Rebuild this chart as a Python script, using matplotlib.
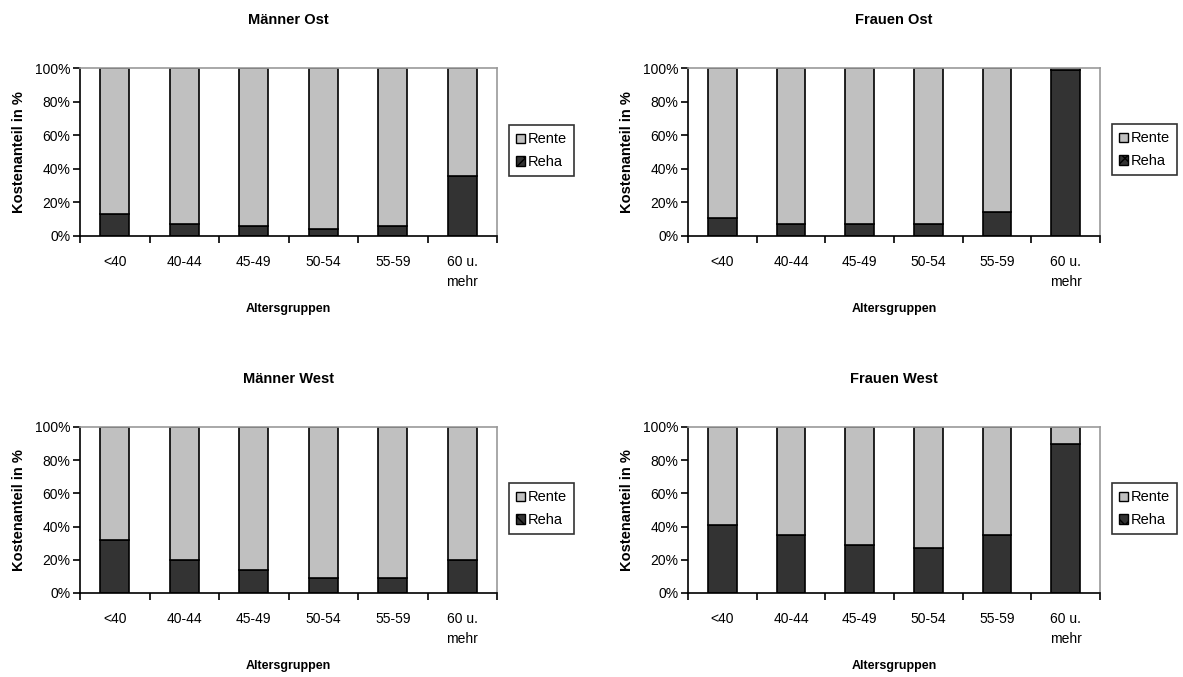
import matplotlib
matplotlib.use("Agg")
import matplotlib.pyplot as plt
import numpy as np
from matplotlib.patches import Patch

plt.rcParams['font.family'] = ['Liberation Sans', 'DejaVu Sans']

categories = ["<40", "40-44", "45-49", "50-54", "55-59", "60 u.\nmehr"]
titles = ["Männer Ost", "Frauen Ost", "Männer West", "Frauen West"]

reha_maenner_ost = [13, 7, 6, 4, 6, 36]
reha_frauen_ost = [11, 7, 7, 7, 14, 99]
reha_maenner_west = [32, 20, 14, 9, 9, 20]
reha_frauen_west = [41, 35, 29, 27, 35, 90]

rente_maenner_ost = [87, 93, 94, 96, 94, 64]
rente_frauen_ost = [89, 93, 93, 93, 86, 1]
rente_maenner_west = [68, 80, 86, 91, 91, 80]
rente_frauen_west = [59, 65, 71, 73, 65, 10]

reha_all = [reha_maenner_ost, reha_frauen_ost, reha_maenner_west, reha_frauen_west]
rente_all = [rente_maenner_ost, rente_frauen_ost, rente_maenner_west, rente_frauen_west]

W, H = 1183, 677
fig = plt.figure(figsize=(W / 100, H / 100), dpi=100)

# axes boxes in pixels: (left, right, top, bottom)
boxes = [(80, 497, 68, 236), (688, 1100, 68, 236),
         (80, 497, 427, 593), (688, 1100, 427, 593)]
legend_pos = [(509, 125), (1112, 124), (509, 483), (1112, 483)]

reha_color = "#333333"
rente_color = "#c0c0c0"

for i in range(4):
    l, r, t, b = boxes[i]
    ax = fig.add_axes([l / W, 1 - b / H, (r - l) / W, (b - t) / H])
    x = np.arange(len(categories))
    ax.bar(x, reha_all[i], width=0.42, color=reha_color, edgecolor="black", linewidth=1.2)
    ax.bar(x, rente_all[i], width=0.42, bottom=reha_all[i], color=rente_color,
           edgecolor="black", linewidth=1.2)
    ax.set_xlim(-0.5, len(categories) - 0.5)
    ax.set_ylim(0, 100)
    ax.set_yticks([0, 20, 40, 60, 80, 100])
    ax.set_yticklabels(["0%", "20%", "40%", "60%", "80%", "100%"], fontsize=10)
    ax.set_xticks(x)
    ax.set_xticklabels(categories, fontsize=10, va="top", linespacing=1.5)
    ax.tick_params(axis="x", length=0, pad=14)
    ax.set_xticks(np.arange(-0.5, len(categories), 1.0), minor=True)
    ax.tick_params(axis="x", which="minor", length=5, direction="out", width=1.2)
    ax.tick_params(axis="y", length=5, direction="out", width=1.2, pad=2)
    for s in ["top", "right"]:
        ax.spines[s].set_color("#999999")
        ax.spines[s].set_linewidth(1.2)
    ax.spines["left"].set_color("black")
    ax.spines["bottom"].set_color("black")
    ax.spines["left"].set_linewidth(1.2)
    ax.spines["bottom"].set_linewidth(1.2)
    ax.set_title(titles[i], fontsize=10.5, fontweight="bold", pad=32)
    ax.set_ylabel("Kostenanteil in %", fontsize=10.5, fontweight="bold", labelpad=6)
    ax.set_xlabel("Altersgruppen", fontsize=9, fontweight="bold", labelpad=10)
    handles = [Patch(facecolor=rente_color, edgecolor="black", label="Rente"),
               Patch(facecolor=reha_color, edgecolor="black", hatch="xx", label="Reha")]
    lx, ly = legend_pos[i]
    leg = fig.legend(handles=handles, loc="upper left",
                     bbox_to_anchor=(lx / W, 1 - ly / H), fontsize=10.5,
                     frameon=True, fancybox=False, edgecolor="black",
                     handlelength=0.6, handleheight=0.6, handletextpad=0.2,
                     borderpad=0.5, labelspacing=0.6, borderaxespad=0)
    leg.get_frame().set_linewidth(1.2)

fig.savefig("out.png", dpi=100)
